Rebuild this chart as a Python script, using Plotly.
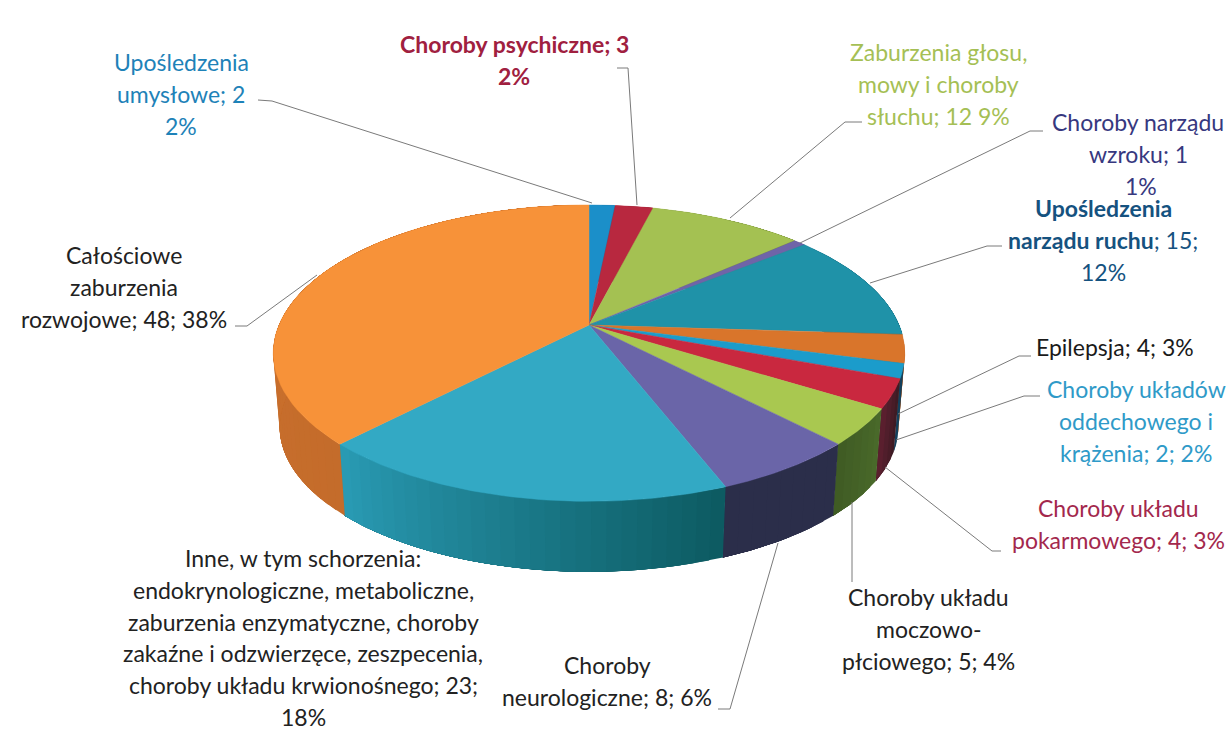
import numpy as np
import plotly.graph_objects as go

# ---- data ----
categories = ["Upośledzenia umysłowe", "Choroby psychiczne", "Zaburzenia głosu, mowy i choroby słuchu",
              "Choroby narządu wzroku", "Upośledzenia narządu ruchu", "Epilepsja",
              "Choroby układów oddechowego i krążenia", "Choroby układu pokarmowego",
              "Choroby układu moczowo-płciowego", "Choroby neurologiczne",
              "Inne", "Całościowe zaburzenia rozwojowe"]
values = [2, 3, 12, 1, 15, 4, 2, 4, 5, 8, 23, 48]

top_colors = ["#1B8FC9", "#B8283F", "#A4C152", "#6F64A8", "#1F92A8", "#D9752B",
              "#1B9CCB", "#C9283F", "#A9C850", "#6A65A8", "#33A9C4", "#F79239"]
side_left = ["#146A96", "#7E1C2C", "#6F8438", "#4A4372", "#15657A", "#B85F22",
             "#14405C", "#5E2030", "#3F5B24", "#2B2E4A", "#2A9BB5", "#D0742F"]
side_right = ["#146A96", "#7E1C2C", "#6F8438", "#4A4372", "#15657A", "#B85F22",
              "#14405C", "#3A1A22", "#4A6A2A", "#2B2E4A", "#0C5A60", "#C46C2B"]

label_lines = [
    ["Upośledzenia", "umysłowe; 2", "2%"],
    ["Choroby psychiczne; 3", "2%"],
    ["Zaburzenia głosu,", "mowy i choroby", "słuchu; 12 9%"],
    ["Choroby narządu", "wzroku; 1", "&nbsp;1%"],
    ["<b>Upośledzenia</b>", "<b>narządu ruchu</b>; 15;", "12%"],
    ["Epilepsja; 4; 3%"],
    ["Choroby układów", "oddechowego i", "krążenia; 2; 2%"],
    ["Choroby układu", "pokarmowego; 4; 3%"],
    ["Choroby układu", "moczowo-", "płciowego; 5; 4%"],
    ["Choroby", "neurologiczne; 8; 6%"],
    ["Inne, w tym schorzenia:", "endokrynologiczne, metaboliczne,", "zaburzenia enzymatyczne, choroby",
     "zakaźne i odzwierzęce, zeszpecenia,", "choroby układu krwionośnego; 23;", "18%"],
    ["Całościowe", "zaburzenia", "rozwojowe; 48; 38%"],
]
label_colors = ["#1E82B8", "#A0203F", "#A5BF55", "#37387F", "#15527F", "#1a1a1a",
                "#2F9AC8", "#A3284D", "#222222", "#222222", "#222222", "#222222"]
label_bold = [False, True, False, False, False, False, False, False, False, False, False, False]

# ---- layout of labels (pixel frame) ----
label_centers = [(181, 62), (514, 44), (938, 52), (1138, 122), (1103, 208), (1115, 347),
                 (1136, 389), (1118, 508), (928, 597), (607, 665), (303, 558), (124, 255)]
LINE_STEP = 31.8
leaders = [
    [(258, 100), (272, 101), (592, 203)],
    [(617, 68), (628, 68), (637, 205)],
    [(862, 122), (845, 122), (730, 218)],
    [(1043, 131), (1030, 131), (800, 243)],
    [(1002, 246), (987, 246), (870, 283)],
    [(1031, 356), (1019, 356), (898, 414)],
    [(1040, 396), (1024, 396), (896, 440)],
    [(1001, 551), (992, 551), (885, 467)],
    [(852, 582), (852, 502)],
    [(718, 709), (730, 709), (778, 543)],
    [(235, 326), (247, 326), (317, 275)],
]

# ---- pie projection ----
CX, CY = 589, 325
RX, RY, K = 310, 142.8, 0.19
BOTTOM_SCALE, BOTTOM_DY = 0.98, 74


def project(theta, bottom=False):
    u, v = np.sin(theta), -np.cos(theta)
    s = 1 / (1 - K * v)
    if bottom:
        return CX + RX * u * s * BOTTOM_SCALE, CY + BOTTOM_DY + RY * v * s * BOTTOM_SCALE
    return CX + RX * u * s, CY + RY * v * s


def hex_mix(a, b, t):
    ca = [int(a[i:i + 2], 16) for i in (1, 3, 5)]
    cb = [int(b[i:i + 2], 16) for i in (1, 3, 5)]
    return "rgb({},{},{})".format(*[round(x + (y - x) * t) for x, y in zip(ca, cb)])


fig = go.Figure()
edges = np.cumsum([0] + values) / sum(values) * 2 * np.pi

# side wall, shaded along each slice; every band runs on to the slice's far end,
# so the next band paints over it and no seam shows
for i in range(len(values)):
    a0, a1 = edges[i], edges[i + 1]
    n = max(2, int((a1 - a0) / 0.04))
    steps = np.linspace(a0, a1, n + 1)
    for j in range(n):
        t = (j + 0.5) / n
        th = np.linspace(steps[j], a1, 24)
        tx, ty = project(th)
        bx, by = project(th[::-1], True)
        c = hex_mix(side_right[i], side_left[i], t)
        fig.add_trace(go.Scatter(x=np.r_[tx, bx], y=np.r_[ty, by], mode="lines", fill="toself",
                                 fillcolor=c, line=dict(width=0),
                                 hoverinfo="skip", showlegend=False))

# top face
for i in range(len(values)):
    th = np.linspace(edges[i], edges[i + 1], 60)
    rx, ry = project(th)
    fig.add_trace(go.Scatter(x=np.r_[CX, rx, CX], y=np.r_[CY, ry, CY], mode="lines", fill="toself",
                             fillcolor=top_colors[i], line=dict(width=0.5, color=top_colors[i]),
                             name=categories[i], hoverinfo="name", showlegend=False))

# leader lines
for pts in leaders:
    fig.add_trace(go.Scatter(x=[p[0] for p in pts], y=[p[1] for p in pts], mode="lines",
                             line=dict(color="#7a7a7a", width=1), hoverinfo="skip", showlegend=False))

# labels, one annotation per line
for lines, color, bold, (x, y) in zip(label_lines, label_colors, label_bold, label_centers):
    for n, line in enumerate(lines):
        txt = f"<b>{line}</b>" if bold else line
        fig.add_annotation(x=x, y=y + n * LINE_STEP, text=txt, showarrow=False,
                           xanchor="center", yanchor="middle",
                           font=dict(family="Lato, Carlito, sans-serif", size=23, color=color))

fig.update_layout(
    width=1231, height=733, margin=dict(l=0, r=0, t=0, b=0),
    paper_bgcolor="white", plot_bgcolor="white", showlegend=False,
    xaxis=dict(range=[0, 1231], visible=False, fixedrange=True),
    yaxis=dict(range=[733, 0], visible=False, fixedrange=True),
)
fig.write_html("out.html", config={"displayModeBar": False},
               post_script="document.body.style.margin='0';document.documentElement.style.overflow='hidden';")
